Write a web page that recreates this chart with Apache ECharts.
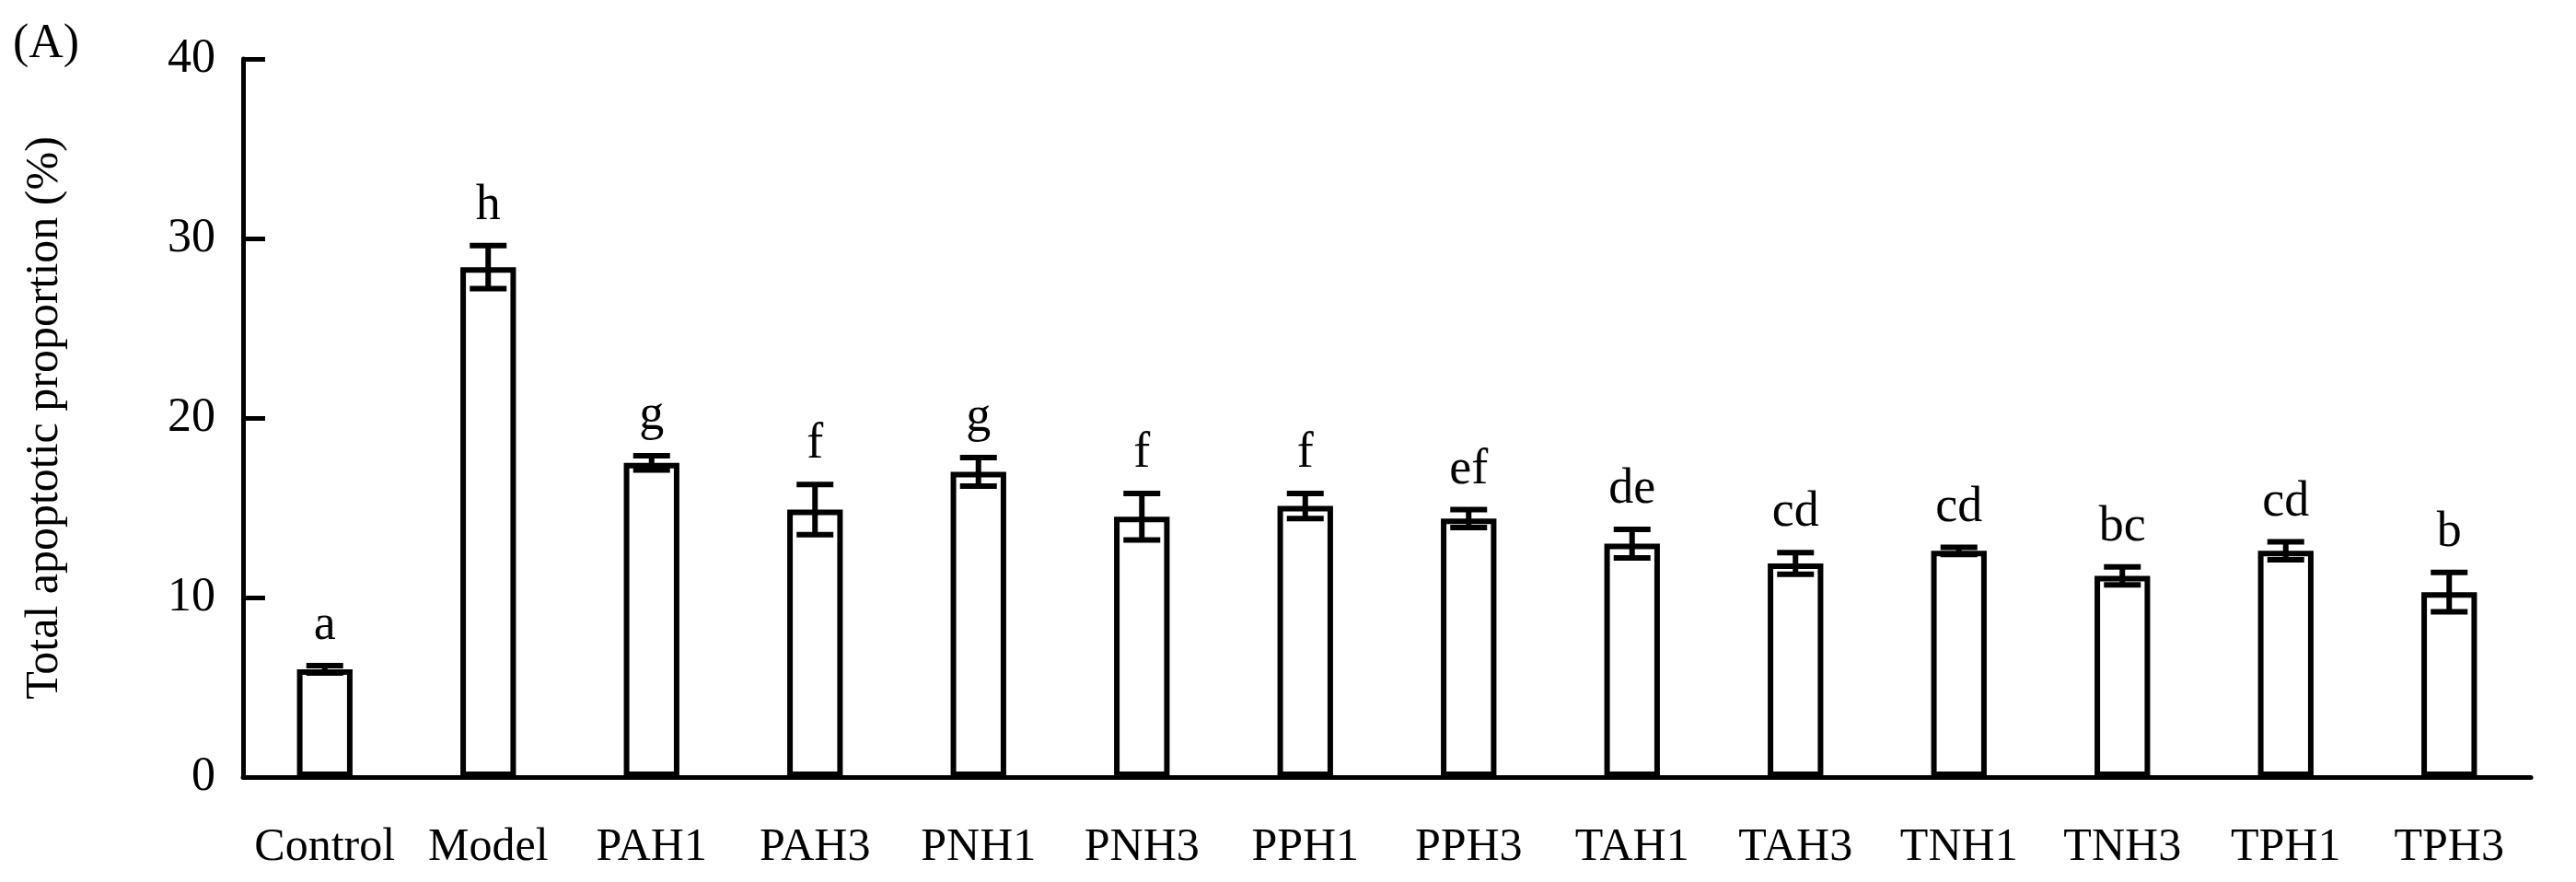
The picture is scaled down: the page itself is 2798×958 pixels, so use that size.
<!DOCTYPE html>
<html><head><meta charset="utf-8">
<script src="https://cdn.jsdelivr.net/npm/echarts@6/dist/echarts.min.js"></script>
<style>html,body{margin:0;padding:0;background:#fff}#c{width:2798px;height:958px}</style>
</head><body><div id="c"></div>
<script>
const categories=["Control","Model","PAH1","PAH3","PNH1","PNH3","PPH1","PPH3","TAH1","TAH3","TNH1","TNH3","TPH1","TPH3"];
const values=[6.0,28.4,17.5,14.9,17.0,14.5,15.1,14.4,13.0,11.9,12.6,11.2,12.6,10.3];
const errors=[0.2,1.2,0.4,1.4,0.8,1.3,0.7,0.5,0.8,0.6,0.2,0.5,0.5,1.1];
const letters=["a","h","g","f","g","f","f","ef","de","cd","cd","bc","cd","b"];
const yTicks=[0,10,20,30,40];
const F='"Liberation Serif","DejaVu Serif",serif';
const chart=echarts.init(document.getElementById('c'));
chart.setOption({
 animation:false,
 grid:{left:264,right:49,top:64,bottom:114},
 graphic:[{type:'text',left:14,top:22,style:{text:'(A)',font:'52px '+F,fill:'#000'}}],
 xAxis:{type:'category',data:categories,boundaryGap:true,
  axisLine:{lineStyle:{color:'#000',width:5}},
  axisTick:{inside:true,length:16,lineStyle:{color:'#000',width:5}},
  axisLabel:{color:'#000',fontFamily:F,fontSize:50,margin:52,interval:0}},
 yAxis:{type:'value',min:0,max:40,interval:10,
  name:'Total apoptotic proportion (%)',nameLocation:'middle',nameGap:190,
  nameTextStyle:{color:'#000',fontFamily:F,fontSize:50},
  axisLine:{show:true,lineStyle:{color:'#000',width:5}},
  axisTick:{show:true,inside:true,length:24,lineStyle:{color:'#000',width:5}},
  axisLabel:{color:'#000',fontFamily:F,fontSize:52,margin:30,formatter:v=>yTicks.includes(v)?v:''},
  splitLine:{show:false}},
 series:[
  {type:'bar',data:values,barWidth:'34%',itemStyle:{color:'#fff',borderColor:'#000',borderWidth:6}},
  {type:'custom',data:values.map((v,i)=>[i,v,errors[i]]),z:10,
   renderItem:(p,api)=>{
    const x=api.value(0),v=api.value(1),e=api.value(2);
    const hi=api.coord([x,v+e]),lo=api.coord([x,v-e]);
    const w=20;
    return {type:'group',children:[
     {type:'line',shape:{x1:hi[0],y1:hi[1],x2:lo[0],y2:lo[1]},style:{stroke:'#000',lineWidth:6}},
     {type:'line',shape:{x1:hi[0]-w,y1:hi[1],x2:hi[0]+w,y2:hi[1]},style:{stroke:'#000',lineWidth:6}},
     {type:'line',shape:{x1:lo[0]-w,y1:lo[1],x2:lo[0]+w,y2:lo[1]},style:{stroke:'#000',lineWidth:6}},
     {type:'text',style:{text:letters[p.dataIndex],x:hi[0],y:hi[1]-16,align:'center',verticalAlign:'bottom',font:'54px '+F,fill:'#000'}}
    ]};
   }}
 ]
});
</script></body></html>
